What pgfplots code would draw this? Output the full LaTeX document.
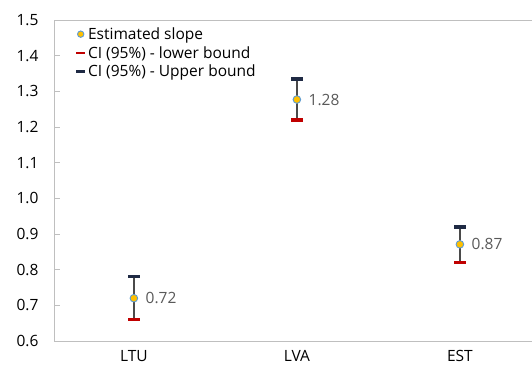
\documentclass[border=0pt]{standalone}
\usepackage{fontspec}
\setmainfont{Open Sans}
\usepackage{pgfplots}
\pgfplotsset{compat=1.18}
\definecolor{estfill}{HTML}{FFC000}
\definecolor{estedge}{HTML}{5B9BD5}
\definecolor{lowc}{HTML}{C00000}
\definecolor{upc}{HTML}{1F2A44}
\definecolor{stemc}{HTML}{4A4A4A}
\definecolor{axc}{HTML}{BFBFBF}
\definecolor{txt}{HTML}{595959}
\pgfplotstableread{
x est low up lab
0 0.72 0.66 0.78 0.72
1 1.277 1.22 1.335 1.28
2 0.871 0.82 0.92 0.87
}\data
\begin{document}
\begin{tikzpicture}
\useasboundingbox (0,0) rectangle (532pt,372pt);
\begin{axis}[
  at={(54pt,31pt)}, anchor=south west,
  scale only axis, width=490pt, height=321pt,
  xmin=-0.49, xmax=2.516, ymin=0.6, ymax=1.5,
  axis lines*=left,
  axis line style={axc, line width=1pt, -},
  xtick={0,1,2}, xticklabels={LTU,LVA,EST},
  major x tick style={draw=none},
  extra x ticks={0.5,1.5}, extra x tick labels={},
  extra x tick style={tick style={axc, line width=0.8pt}, major tick length=5pt, tick align=inside},
  ytick={0.6,0.7,...,1.5},
  y tick label style={/pgf/number format/fixed, /pgf/number format/fixed zerofill, /pgf/number format/precision=1, xshift=-12pt},
  /pgf/number format/assume math mode=true,
  y tick style={axc, line width=0.8pt}, tick align=inside, major tick length=6pt,
  ticklabel style={font=\fontsize{15.5}{17}\selectfont, text=black},
  x tick label style={yshift=-6pt},
  clip=false,
  legend style={at={(0.04,0.985)}, anchor=north west, draw=none, fill=none,
    font=\fontsize{15.5}{17}\selectfont, row sep=2.5pt,
    legend cell align=left, inner sep=1pt, nodes={inner sep=1.5pt}},
]
\draw[axc, line width=1pt] (axis cs:-0.49,1.5) -- (axis cs:2.516,1.5);
% stems
\addplot[stemc, line width=1.8pt, forget plot] coordinates {(0,0.66) (0,0.78)};
\addplot[stemc, line width=1.8pt, forget plot] coordinates {(1,1.22) (1,1.335)};
\addplot[stemc, line width=1.8pt, forget plot] coordinates {(2,0.82) (2,0.92)};
\addplot[only marks, mark=*, mark size=3.8pt, mark options={fill=estfill, draw=estedge, line width=0.9pt},
  nodes near coords, point meta=explicit symbolic,
  nodes near coords style={anchor=west, xshift=8pt, text=txt, font=\fontsize{15.5}{17}\selectfont},
  legend image code/.code={\draw[fill=estfill, draw=estedge, line width=0.9pt] (5pt,0pt) circle (3.2pt);}]
  table[x=x, y=est, meta=lab] {\data};
\addlegendentry{Estimated slope}
\addplot[only marks, mark=-, mark size=6pt, mark options={draw=lowc, line width=3.3pt},
  legend image code/.code={\draw[lowc, line width=2.8pt] (0.5pt,0pt) -- (9.5pt,0pt);}]
  table[x=x, y=low] {\data};
\addlegendentry{CI (95\%) - lower bound}
\addplot[only marks, mark=-, mark size=6pt, mark options={draw=upc, line width=3.3pt},
  legend image code/.code={\draw[upc, line width=2.8pt] (0.5pt,0pt) -- (9.5pt,0pt);}]
  table[x=x, y=up] {\data};
\addlegendentry{CI (95\%) - Upper bound}
\end{axis}
\end{tikzpicture}
\end{document}
